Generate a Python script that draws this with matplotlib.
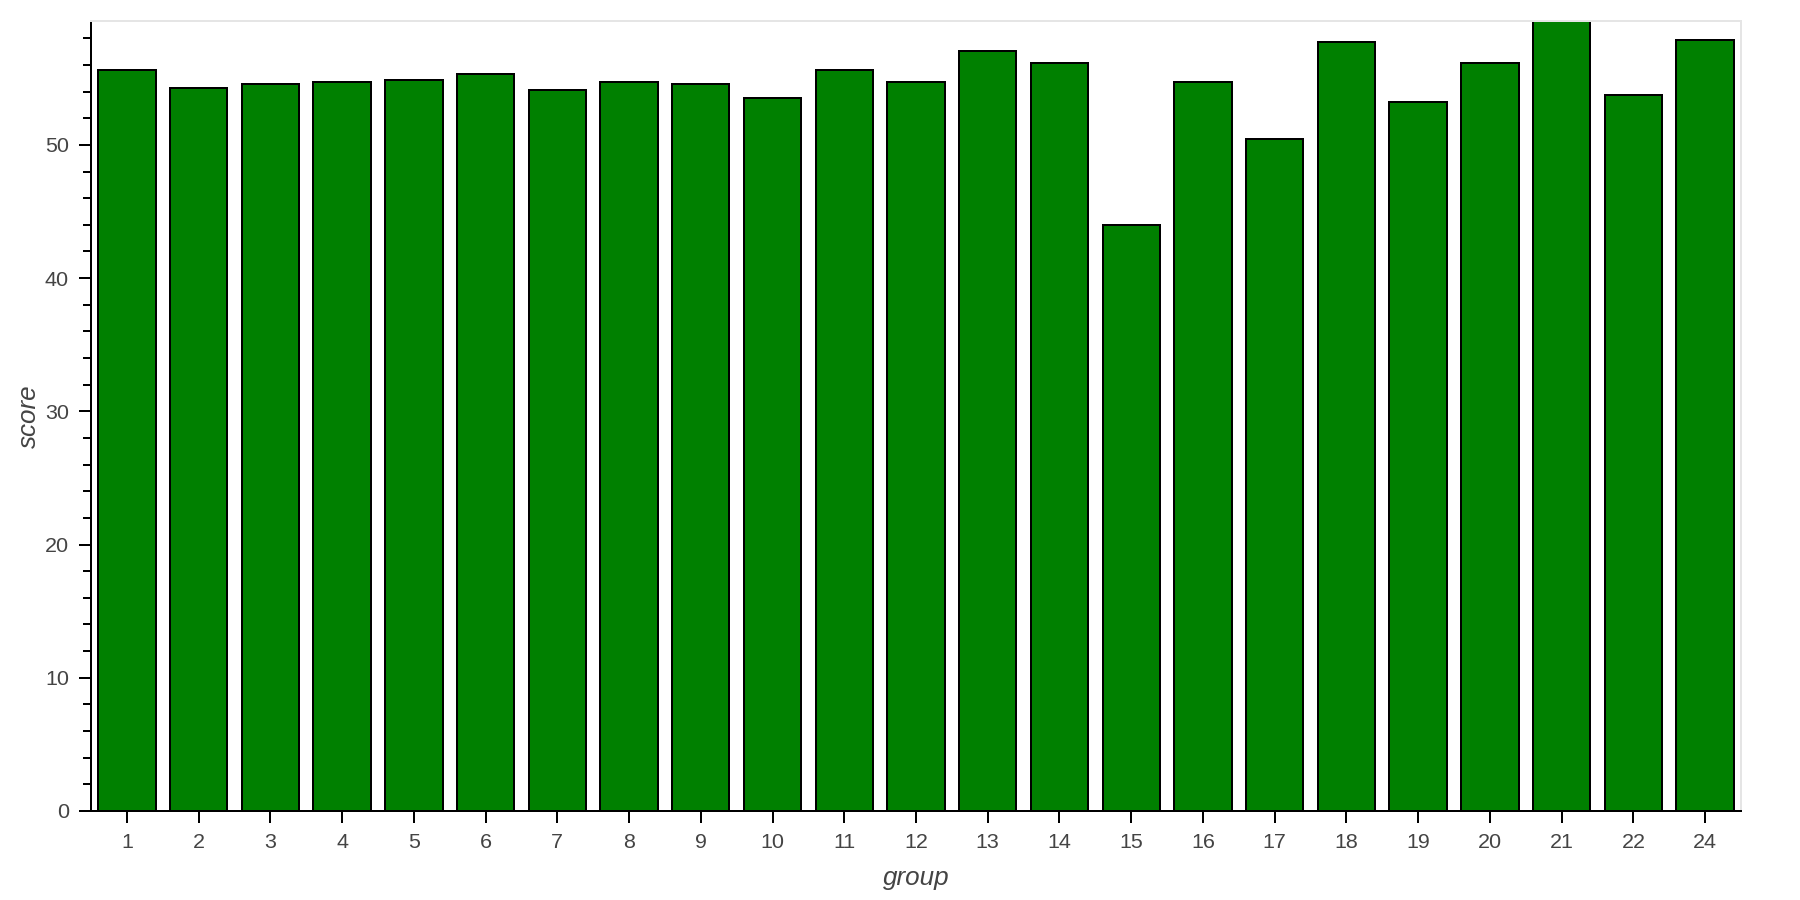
import matplotlib
matplotlib.use("Agg")
import matplotlib.pyplot as plt
from matplotlib.ticker import MultipleLocator

groups = ["1", "2", "3", "4", "5", "6", "7", "8", "9", "10", "11", "12",
          "13", "14", "15", "16", "17", "18", "19", "20", "21", "22", "24"]
scores = [55.6, 54.3, 54.6, 54.75, 54.85, 55.3, 54.1, 54.7, 54.55, 53.5, 55.6, 54.75,
          57.05, 56.15, 44.0, 54.75, 50.45, 57.75, 53.2, 56.15, 59.3, 53.75, 57.9]

PX = 72 / 100  # points per pixel at dpi 100

plt.rcParams['font.family'] = ['Liberation Sans', 'DejaVu Sans']

fig = plt.figure(figsize=(18, 9), dpi=100)
ax = fig.add_axes([91 / 1800, 1 - 811 / 900, 1650 / 1800, 790 / 900])

x = list(range(len(groups)))
ax.bar(x, scores, width=0.8, color="#008000", edgecolor="black",
       linewidth=2 * PX, zorder=2)

ax.set_xlim(-0.5, len(groups) - 0.5)
ax.set_ylim(0, max(scores))
ax.set_xticks(x)
ax.set_xticklabels(groups)
ax.yaxis.set_major_locator(MultipleLocator(10))
ax.yaxis.set_minor_locator(MultipleLocator(2))

for s in ["top", "right"]:
    ax.spines[s].set_color("#e5e5e5")
    ax.spines[s].set_linewidth(2 * PX)
for s in ["left", "bottom"]:
    ax.spines[s].set_color("black")
    ax.spines[s].set_linewidth(2 * PX)

ax.tick_params(axis="both", which="major", direction="out", length=12 * PX,
               width=2 * PX, color="black", labelsize=21.5 * PX,
               labelcolor="#444444", pad=10 * PX)
ax.tick_params(axis="y", which="minor", direction="out", length=8 * PX,
               width=2 * PX, color="black")
ax.tick_params(axis="x", which="minor", bottom=False)

ax.set_xlabel("group", fontsize=26 * PX, fontstyle="italic", color="#444444",
              labelpad=10)
ax.set_ylabel("score", fontsize=26 * PX, fontstyle="italic", color="#444444",
              labelpad=3)

fig.savefig("out.png", dpi=100)
